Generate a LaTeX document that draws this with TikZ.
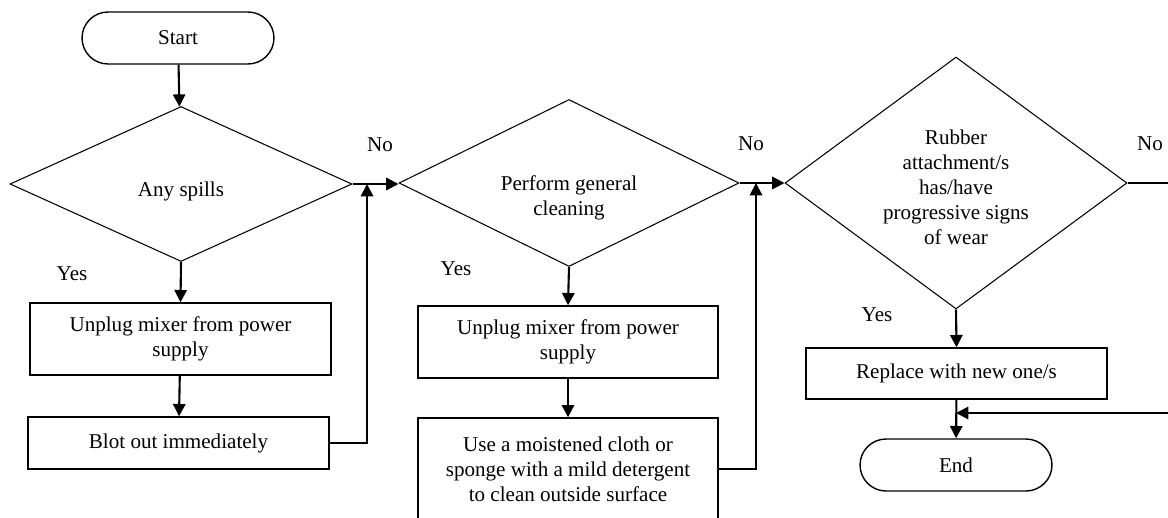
\documentclass[tikz,border=0pt]{standalone}
\usepackage{fontspec}
\setmainfont{Liberation Serif}
\usetikzlibrary{arrows.meta}
\usetikzlibrary{shapes.geometric,shapes.misc}

\begin{document}
\begin{tikzpicture}[x=0.02cm, y=-0.02cm, >={Triangle[length=7pt,width=7pt]},
    font=\fontsize{12}{14.2}\selectfont,
    main/.style = {draw, line width=0.8pt, inner sep=0pt, align=center},
    dec/.style = {draw, diamond, line width=0.6pt, inner sep=0pt},
    term/.style = {draw, rounded rectangle, line width=0.8pt, minimum width=3.84cm, minimum height=1.04cm, inner sep=0pt},
    flow/.style = {->, line width=1.2pt}]

    \useasboundingbox (0,0) rectangle (1168,517);

    \node [term] (0) at (178, 38) {Start};
    \node [dec, minimum width=6.84cm, minimum height=3.1cm] (1) at (181, 184) {};
    \node (1t) at (181, 191) {Any spills};
    \node [main, minimum width=6.02cm, minimum height=1.44cm] (2) at (180.5, 339) {Unplug mixer from power\\supply};
    \node [main, minimum width=6.02cm, minimum height=1.04cm] (3) at (178.5, 443) {Blot out immediately};

    \node [dec, minimum width=6.8cm, minimum height=3.34cm] (4) at (569, 183) {};
    \node [align=center] (4t) at (569, 198) {Perform general\\cleaning};
    \node [main, minimum width=6cm, minimum height=1.44cm] (5) at (568, 342) {Unplug mixer from power\\supply};
    \node [main, minimum width=6cm, minimum height=2.04cm] (6) at (568, 469) {Use a moistened cloth or\\sponge with a mild detergent\\to clean outside surface};

    \node [dec, minimum width=6.84cm, minimum height=5.04cm] (7) at (956, 183) {};
    \node [align=center] (7t) at (956, 187) {Rubber\\attachment/s\\has/have\\progressive signs\\of wear};
    \node [main, minimum width=6.02cm, minimum height=1.02cm] (8) at (956.5, 373.5) {Replace with new one/s};
    \node [term] (9) at (956, 465) {End};

    \node (no1) at (380, 145) {No};
    \node (no2) at (751, 144) {No};
    \node (no3) at (1150, 144) {No};
    \node (yes1) at (72, 274) {Yes};
    \node (yes2) at (456, 269) {Yes};
    \node (yes3) at (877, 315) {Yes};

    \coordinate (j1) at (367, 184);
    \coordinate (j2) at (756, 183);
    \coordinate (j3) at (956, 413);
    \coordinate (out) at (1200, 183);

    \draw[flow] (0) to (1);
    \draw[flow] (1.south) to (2.north);
    \draw[flow] (2) to (3);
    \draw[flow] (1.east) to (1.east -| 4.west);
    \draw[flow] (3.east) -| (j1);

    \draw[flow] (4.south) to (5.north);
    \draw[flow] (5) to (6);
    \draw[flow] (4.east) to (7.west);
    \draw[flow] (6.east) -| (j2);

    \draw[flow] (7.south) to (8.north);
    \draw[flow] (8) to (9);
    \draw[flow] (7.east) -- (out) |- (j3);

\end{tikzpicture}
\end{document}
